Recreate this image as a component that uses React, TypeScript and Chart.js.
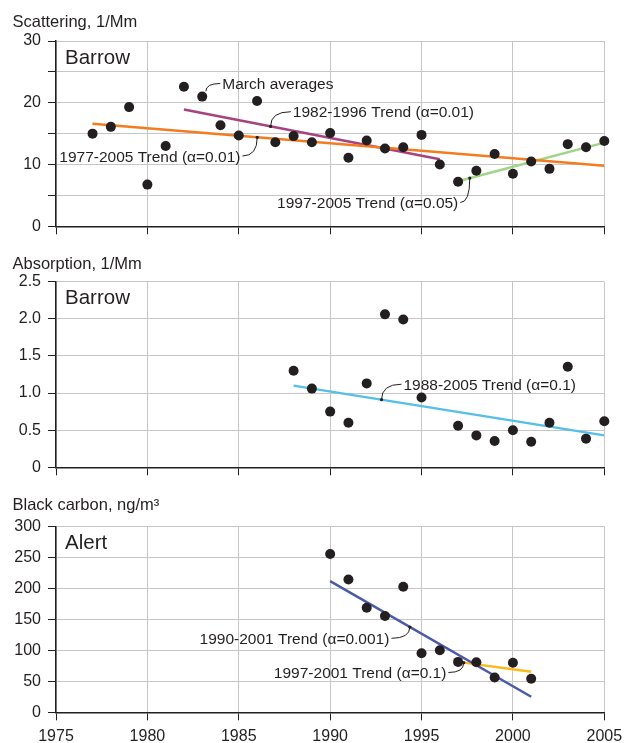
import React, { useEffect, useRef } from "react";
import { Chart, registerables } from "chart.js";

Chart.register(...registerables);

// ---------- shared axis values ----------
const X_MIN = 1975;
const X_MAX = 2005;
const X_STEP = 5;

// ---------- Panel 1: Barrow scattering (March averages) ----------
const SCAT_YEARS = [
  1977, 1978, 1979, 1980, 1981, 1982, 1983, 1984, 1985, 1986, 1987, 1988, 1989, 1990, 1991,
  1992, 1993, 1994, 1995, 1996, 1997, 1998, 1999, 2000, 2001, 2002, 2003, 2004, 2005,
];
const SCAT_VALUES = [
  15.0, 16.1, 19.3, 6.75, 13.0, 22.6, 21.0, 16.35, 14.7, 20.3, 13.6, 14.6, 13.6, 15.1, 11.1,
  13.9, 12.6, 12.8, 14.8, 10.0, 7.2, 9.0, 11.7, 8.5, 10.5, 9.3, 13.3, 12.8, 13.8,
];
const SCAT_TREND_7705_YEARS = [1977, 2005];
const SCAT_TREND_7705_VALUES = [16.6, 9.8];
const SCAT_TREND_8296_YEARS = [1982, 1996];
const SCAT_TREND_8296_VALUES = [18.9, 10.85];
const SCAT_TREND_9705_YEARS = [1997, 2005];
const SCAT_TREND_9705_VALUES = [7.3, 13.55];

// ---------- Panel 2: Barrow absorption ----------
const ABS_YEARS = [
  1988, 1989, 1990, 1991, 1992, 1993, 1994, 1995, 1997, 1998, 1999, 2000, 2001, 2002, 2003,
  2004, 2005,
];
const ABS_VALUES = [
  1.3, 1.06, 0.75, 0.6, 1.13, 2.06, 1.99, 0.94, 0.56, 0.43, 0.355, 0.5, 0.345, 0.6, 1.355,
  0.386, 0.62,
];
const ABS_TREND_YEARS = [1988, 2005];
const ABS_TREND_VALUES = [1.1, 0.43];

// ---------- Panel 3: Alert black carbon ----------
const BC_YEARS = [1990, 1991, 1992, 1993, 1994, 1995, 1996, 1997, 1998, 1999, 2000, 2001];
const BC_VALUES = [256, 214.6, 169, 155.6, 202.8, 95.5, 100.3, 81.5, 81, 56.3, 80, 54.2];
const BC_TREND_9001_YEARS = [1990, 2001];
const BC_TREND_9001_VALUES = [211.9, 25.2];
const BC_TREND_9701_YEARS = [1997, 2001];
const BC_TREND_9701_VALUES = [81.5, 65.5];

// ---------- styles ----------
const FONT = '"Liberation Sans", Arial, Helvetica, sans-serif';
const INK = "#231f20";
const GRID = "#c6c6c6";
const ORANGE = "#f47c20";
const PURPLE = "#a8427e";
const GREEN = "#9fd584";
const CYAN = "#55bfe8";
const NAVY = "#4a5aa8";
const YELLOW = "#fdb918";

type Trend = { years: number[]; values: number[]; color: string };
type Note = {
  text: string;
  align: "left" | "right";
  trend: Trend | null;
  fromYear: number;
  fromValue?: number;
  toYear: number;
  toValue: number;
};
type PanelSpec = {
  top: number;
  height: number;
  padTop: number;
  xHeight: number;
  showXLabels: boolean;
  yMax: number;
  yStep: number;
  yLabel: (v: number) => string;
  title: string;
  titleBaseline: number;
  site: string;
  years: number[];
  values: number[];
  trends: Trend[];
  notes: Note[];
};

const T_SCAT_ALL: Trend = { years: SCAT_TREND_7705_YEARS, values: SCAT_TREND_7705_VALUES, color: ORANGE };
const T_SCAT_MID: Trend = { years: SCAT_TREND_8296_YEARS, values: SCAT_TREND_8296_VALUES, color: PURPLE };
const T_SCAT_LATE: Trend = { years: SCAT_TREND_9705_YEARS, values: SCAT_TREND_9705_VALUES, color: GREEN };
const T_ABS: Trend = { years: ABS_TREND_YEARS, values: ABS_TREND_VALUES, color: CYAN };
const T_BC_ALL: Trend = { years: BC_TREND_9001_YEARS, values: BC_TREND_9001_VALUES, color: NAVY };
const T_BC_LATE: Trend = { years: BC_TREND_9701_YEARS, values: BC_TREND_9701_VALUES, color: YELLOW };

const trendAt = (t: Trend, year: number) => {
  const [x0, x1] = t.years;
  const [y0, y1] = t.values;
  return y0 + ((year - x0) / (x1 - x0)) * (y1 - y0);
};

const PANELS: PanelSpec[] = [
  {
    top: 0,
    height: 240,
    padTop: 41,
    xHeight: 13.7,
    showXLabels: false,
    yMax: 30,
    yStep: 5,
    yLabel: (v) => (v % 10 === 0 ? String(v) : ""),
    title: "Scattering, 1/Mm",
    titleBaseline: 27.3,
    site: "Barrow",
    years: SCAT_YEARS,
    values: SCAT_VALUES,
    trends: [T_SCAT_ALL, T_SCAT_MID, T_SCAT_LATE],
    notes: [
      { text: "March averages", align: "left", trend: null, fromYear: 1983.2, fromValue: 21.85, toYear: 1983.99, toValue: 23.12 },
      { text: "1982-1996 Trend (α=0.01)", align: "left", trend: T_SCAT_MID, fromYear: 1986.74, toYear: 1987.85, toValue: 18.55 },
      { text: "1977-2005 Trend (α=0.01)", align: "right", trend: T_SCAT_ALL, fromYear: 1986.01, toYear: 1985.2, toValue: 11.38 },
      { text: "1997-2005 Trend (α=0.05)", align: "right", trend: T_SCAT_LATE, fromYear: 1997.64, toYear: 1997.12, toValue: 3.85 },
    ],
  },
  {
    top: 240,
    height: 245,
    padTop: 41.7,
    xHeight: 17.7,
    showXLabels: false,
    yMax: 2.5,
    yStep: 0.5,
    yLabel: (v) => (v === 0 ? "0" : v.toFixed(1)),
    title: "Absorption, 1/Mm",
    titleBaseline: 29,
    site: "Barrow",
    years: ABS_YEARS,
    values: ABS_VALUES,
    trends: [T_ABS],
    notes: [
      { text: "1988-2005 Trend (α=0.1)", align: "left", trend: T_ABS, fromYear: 1992.81, toYear: 1993.9, toValue: 1.119 },
    ],
  },
  {
    top: 485,
    height: 258,
    padTop: 41.7,
    xHeight: 30.7,
    showXLabels: true,
    yMax: 300,
    yStep: 50,
    yLabel: (v) => String(v),
    title: "Black carbon, ng/m³",
    titleBaseline: 25,
    site: "Alert",
    years: BC_YEARS,
    values: BC_VALUES,
    trends: [T_BC_ALL, T_BC_LATE],
    notes: [
      { text: "1990-2001 Trend (α=0.001)", align: "right", trend: T_BC_ALL, fromYear: 1994.36, toYear: 1993.35, toValue: 119.6 },
      { text: "1997-2001 Trend (α=0.1)", align: "right", trend: T_BC_LATE, fromYear: 1997.31, toYear: 1996.47, toValue: 64.3 },
    ],
  },
];

function makeOverlay(p: PanelSpec) {
  return {
    id: "overlay",
    afterDatasetsDraw(chart: any) {
      const { ctx, chartArea, scales } = chart;
      const xs = scales.x;
      const ys = scales.y;
      ctx.save();
      ctx.fillStyle = INK;
      ctx.strokeStyle = INK;
      ctx.textBaseline = "alphabetic";
      ctx.textAlign = "left";
      ctx.font = `16.5px ${FONT}`;
      ctx.fillText(p.title, 12.5, p.titleBaseline);
      ctx.font = `20.5px ${FONT}`;
      ctx.fillText(p.site, chartArea.left + 9, chartArea.top + 22.5);
      const noteSize = 15.5;
      ctx.font = `${noteSize}px ${FONT}`;
      for (const n of p.notes) {
        const fromV = n.trend ? trendAt(n.trend, n.fromYear) : (n.fromValue as number);
        const sx = xs.getPixelForValue(n.fromYear);
        const sy = ys.getPixelForValue(fromV);
        const ex = xs.getPixelForValue(n.toYear);
        const ey = ys.getPixelForValue(n.toValue);
        ctx.lineWidth = 1;
        ctx.beginPath();
        ctx.moveTo(sx, sy);
        ctx.quadraticCurveTo(sx, ey, ex, ey);
        ctx.stroke();
        if (n.trend) {
          ctx.beginPath();
          ctx.arc(sx, sy, 1.6, 0, Math.PI * 2);
          ctx.fill();
        }
        ctx.textAlign = n.align;
        ctx.fillText(n.text, ex + (n.align === "left" ? 2 : -2), ey + 0.36 * noteSize);
      }
      ctx.restore();
    },
  };
}

function buildConfig(p: PanelSpec): any {
  const points = p.years.map((yr, i) => ({ x: yr, y: p.values[i] }));
  const trendSets = p.trends.map((t) => ({
    type: "line",
    data: t.years.map((yr, i) => ({ x: yr, y: t.values[i] })),
    borderColor: t.color,
    backgroundColor: t.color,
    borderWidth: 2.5,
    pointRadius: 0,
    pointHoverRadius: 0,
    fill: false,
    showLine: true,
    order: 1,
  }));
  return {
    type: "scatter",
    data: {
      datasets: [
        {
          type: "scatter",
          data: points,
          pointRadius: 5,
          pointHoverRadius: 5,
          backgroundColor: INK,
          borderWidth: 0,
          clip: false,
          order: 0,
        },
        ...trendSets,
      ],
    },
    options: {
      animation: false,
      responsive: false,
      devicePixelRatio: 1,
      events: [],
      layout: { padding: { top: p.padTop, right: 20.7, left: 0, bottom: 0 } },
      plugins: {
        legend: { display: false },
        tooltip: { enabled: false },
        title: { display: false },
      },
      scales: {
        x: {
          type: "linear",
          min: X_MIN,
          max: X_MAX,
          ticks: {
            stepSize: X_STEP,
            display: p.showXLabels,
            font: { family: FONT, size: 16 },
            color: INK,
            padding: 7,
            maxRotation: 0,
            callback: (v: number) => String(v),
          },
          grid: { color: GRID, lineWidth: 1, tickColor: INK, tickLength: 8, drawTicks: true },
          border: { color: INK, width: 1.5 },
          afterFit: (s: any) => {
            s.height = p.xHeight;
            s.paddingLeft = 0;
            s.paddingRight = 0;
          },
        },
        y: {
          type: "linear",
          min: 0,
          max: p.yMax,
          ticks: {
            stepSize: p.yStep,
            font: { family: FONT, size: 16 },
            color: INK,
            padding: 7,
            callback: (v: number) => p.yLabel(v),
          },
          grid: { color: GRID, lineWidth: 1, tickColor: INK, tickLength: 8, drawTicks: true },
          border: { color: INK, width: 1.5 },
          afterFit: (s: any) => {
            s.width = 56;
            s.paddingTop = 0;
            s.paddingBottom = 0;
          },
        },
      },
    },
    plugins: [makeOverlay(p)],
  };
}

function Panel({ spec }: { spec: PanelSpec }) {
  const ref = useRef<HTMLCanvasElement>(null);
  useEffect(() => {
    const chart = new Chart(ref.current as HTMLCanvasElement, buildConfig(spec));
    return () => chart.destroy();
  }, [spec]);
  return (
    <div style={{ position: "absolute", left: 0, top: spec.top, width: 625, height: spec.height }}>
      <canvas
        ref={ref}
        width={625}
        height={spec.height}
        style={{ display: "block", width: 625, height: spec.height }}
      />
    </div>
  );
}

export default function App() {
  return (
    <div
      style={{
        position: "absolute",
        left: 0,
        top: 0,
        width: 625,
        height: 743,
        overflow: "hidden",
        background: "#ffffff",
      }}
    >
      {PANELS.map((p, i) => (
        <Panel key={i} spec={p} />
      ))}
    </div>
  );
}
